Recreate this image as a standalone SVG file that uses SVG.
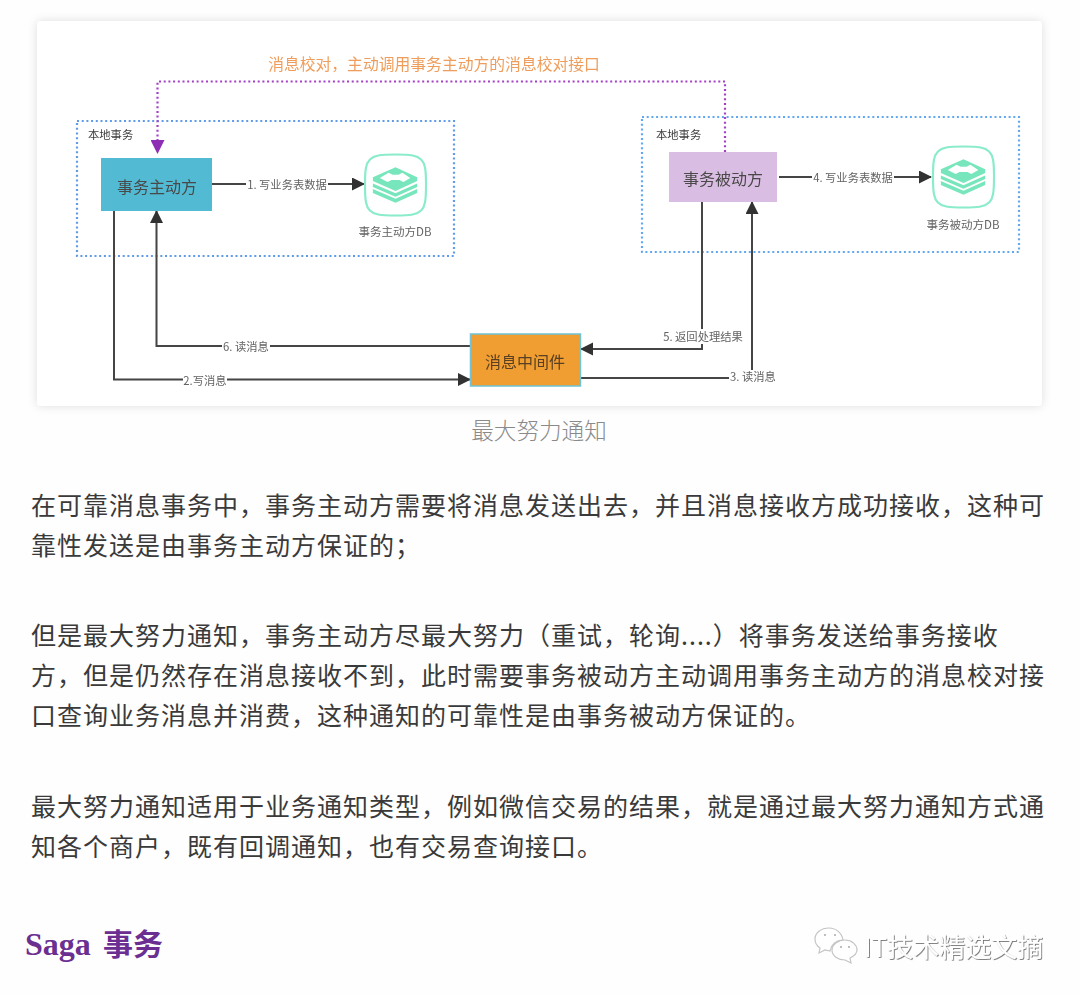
<svg xmlns="http://www.w3.org/2000/svg" width="1080" height="995" viewBox="0 0 1080 995">
<style>
text{font-family:"Noto Sans CJK SC","Noto Sans",sans-serif}
.body{font-size:25px;fill:#3a3a3a;letter-spacing:1px}
.node{font-size:16px;fill:#484848;text-anchor:middle}
.lab{font-size:11.300px;fill:#636363;text-anchor:middle}
.group{font-size:11.300px;fill:#3c3c3c}
.dash{fill:none;stroke:#5f9be8;stroke-width:2.200;stroke-dasharray:2 2.700}
.line{fill:none;stroke:#444;stroke-width:2;marker-end:url(#ah)}
.mask{fill:#fff}
</style>
<defs>
<filter id="shadow" x="-5%" y="-10%" width="110%" height="120%"><feDropShadow dx="0" dy="0" stdDeviation="5" flood-color="#000" flood-opacity="0.13"/></filter>
<filter id="soft" x="-2%" y="-2%" width="104%" height="104%"><feGaussianBlur stdDeviation="0.6"/></filter>
<filter id="emboss" x="-5%" y="-10%" width="110%" height="120%"><feDropShadow dx="0.800" dy="0.800" stdDeviation="0.350" flood-color="#666" flood-opacity="1"/></filter>
<marker id="ah" markerUnits="userSpaceOnUse" markerWidth="13" markerHeight="14" refX="12" refY="6.500" orient="auto"><path d="M0 0L13 6.500L0 13Z" fill="#333"/></marker>
<marker id="ap" markerUnits="userSpaceOnUse" markerWidth="14" markerHeight="14" refX="13" refY="7" orient="auto"><path d="M0 0L14 7L0 14Z" fill="#8e2fb5"/></marker>
<symbol id="db" viewBox="0 0 64 64" overflow="visible">
<path d="M32 1C48 1 54 2 58 6C62 10 63 16 63 32C63 48 62 54 58 58C54 62 48 63 32 63C16 63 10 62 6 58C2 54 1 48 1 32C1 16 2 10 6 6C10 2 16 1 32 1Z" fill="#fff" stroke="#8aecca" stroke-width="2.200"/>
<path d="M32 14L54 24V28L32 38L9 28V24Z" fill="#78e6bc"/>
<path d="M25 19.500L29 21.500H35L39 19.500L47 25L40 29L36 27H28L24 29L16 25Z" fill="#fff"/>
<path d="M27 22.500H37L41 25L37 26H27L23 25Z" fill="#fff"/>
<path d="M9 30.500L32 40.500L54 30.500V34L32 44L9 34Z M9 36L32 46L54 36V40L32 50L9 40Z" fill="#78e6bc"/>
</symbol>
</defs>
<rect width="1080" height="995" fill="#fefefe"/>
<rect id="card" x="37" y="21" width="1005" height="385" rx="4" fill="#fff" filter="url(#shadow)"/>
<g filter="url(#soft)">
<g id="group-left"><rect class="dash" x="77" y="121" width="377" height="135"/><text class="group" x="88" y="139">本地事务</text></g>
<g id="group-right"><rect class="dash" x="642" y="117" width="377" height="135" style="stroke:#62a8f0"/><text class="group" x="656" y="139">本地事务</text></g>
<g id="connectors">
<path d="M725 152V81.500H157.500V153" fill="none" stroke="#a440c8" stroke-width="2.200" stroke-dasharray="2 2.700" marker-end="url(#ap)"/>
<path class="line" d="M212 184H364"/>
<path class="line" d="M779 177H931"/>
<path class="line" d="M114 211V379.500H470"/>
<path class="line" d="M470 346H156.500V211"/>
<path class="line" d="M702 202V349H581"/>
<path class="line" d="M580 378H752V202"/>
<rect class="mask" x="246" y="177" width="82" height="15"/><text class="lab" x="287" y="189">1. 写业务表数据</text>
<rect class="mask" x="812" y="170" width="82" height="15"/><text class="lab" x="853" y="182">4. 写业务表数据</text>
<rect class="mask" x="222" y="339" width="48" height="15"/><text class="lab" x="246" y="351">6. 读消息</text>
<rect class="mask" x="183" y="373" width="44" height="15"/><text class="lab" x="205" y="385">2.写消息</text>
<rect class="mask" x="661" y="329" width="84" height="15"/><text class="lab" x="703" y="341">5. 返回处理结果</text>
<rect class="mask" x="729" y="370" width="48" height="15"/><text class="lab" x="753" y="381">3. 读消息</text>
<text x="434" y="70" style="font-size:15.800px;fill:#ef9d5b;text-anchor:middle">消息校对，主动调用事务主动方的消息校对接口</text>
</g>
<g id="node-active"><rect x="101" y="158" width="111" height="53" fill="#52bad3"/><text class="node" x="157" y="193">事务主动方</text></g>
<g id="node-passive"><rect x="669" y="152" width="108" height="50" fill="#dabde3"/><text class="node" x="723" y="185">事务被动方</text></g>
<g id="node-mq"><rect x="470.500" y="334" width="110" height="52" fill="#f09d33" stroke="#6fc4d4" stroke-width="1.500"/><text class="node" x="525" y="368" style="fill:#5a4020">消息中间件</text></g>
<g id="db-active"><use href="#db" x="364" y="153" width="63" height="64"/><text class="lab" x="395" y="236" style="font-size:11.500px">事务主动方DB</text></g>
<g id="db-passive"><use href="#db" x="932" y="145" width="63" height="64"/><text class="lab" x="963" y="229" style="font-size:11.500px">事务被动方DB</text></g>
</g>
<text x="539" y="439" style="font-size:22.600px;fill:#8a8a8a;text-anchor:middle;font-weight:300">最大努力通知</text>
<text class="body" x="31" y="515">在可靠消息事务中，事务主动方需要将消息发送出去，并且消息接收方成功接收，这种可</text>
<text class="body" x="31" y="555">靠性发送是由事务主动方保证的；</text>
<text class="body" x="31" y="645">但是最大努力通知，事务主动方尽最大努力（重试，轮询....）将事务发送给事务接收</text>
<text class="body" x="31" y="685">方，但是仍然存在消息接收不到，此时需要事务被动方主动调用事务主动方的消息校对接</text>
<text class="body" x="31" y="725">口查询业务消息并消费，这种通知的可靠性是由事务被动方保证的。</text>
<text class="body" x="31" y="816">最大努力通知适用于业务通知类型，例如微信交易的结果，就是通过最大努力通知方式通</text>
<text class="body" x="31" y="856">知各个商户，既有回调通知，也有交易查询接口。</text>
<text x="25" y="955" style="font-family:'Liberation Serif','Noto Sans CJK SC',serif;font-size:32px;font-weight:700;fill:#6b2f91">Saga</text>
<text x="103" y="955" style="font-family:'Noto Sans CJK SC',sans-serif;font-size:30px;font-weight:700;fill:#6b2f91">事务</text>
<g id="watermark">
<g fill="#fff" stroke="#c4c4c4" stroke-width="1.200">
<path d="M829 928C821 928 815 933 815 939C815 943 817 946 820 948L819 953L825 950L830 951C831 945 836 940 843 940C842 933 836 928 829 928Z"/>
<path d="M845 940C838 940 832 945 832 950C832 956 838 960 845 960L851 963L850 958C854 956 857 953 857 950C857 945 852 940 845 940Z"/>
</g>
<g fill="#aaa"><circle cx="825" cy="935" r="1"/><circle cx="835" cy="935" r="1"/><circle cx="841" cy="947" r="1"/><circle cx="849" cy="947" r="1"/></g>
<text x="864" y="957" filter="url(#emboss)" style="font-size:26px;fill:#fff">IT技术精选文摘</text>
</g>
</svg>
